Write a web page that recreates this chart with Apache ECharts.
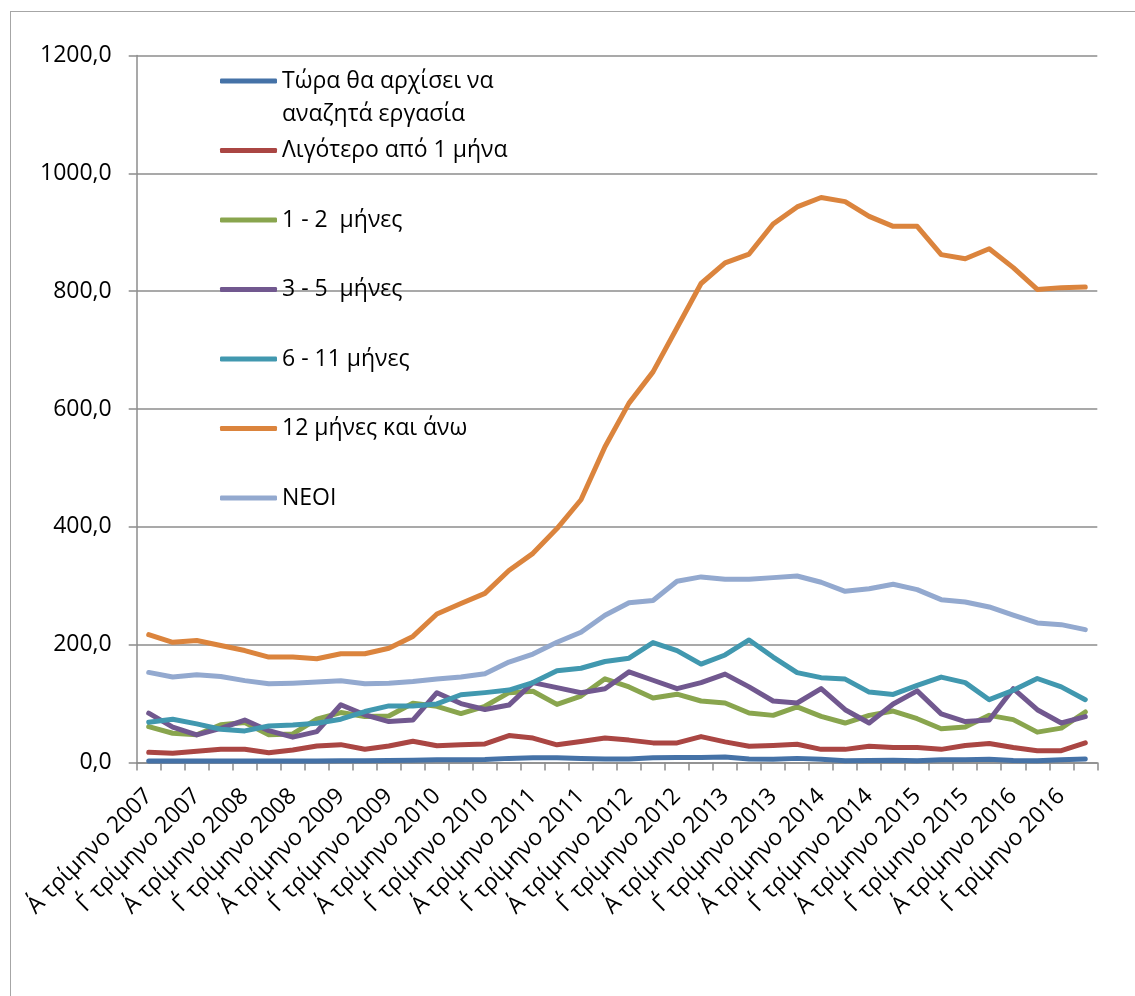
<!DOCTYPE html>
<html>
<head>
<meta charset="utf-8">
<script src="https://cdn.jsdelivr.net/npm/echarts@6/dist/echarts.min.js"></script>
<style>
    html, body {
        margin: 0;
        padding: 0;
        background: #fff;
        overflow: hidden;
    }
    .frame {
        position: absolute;
        left: 10px;
        top: 11px;
        width: 1300px;
        height: 1200px;
        border: 1.5px solid #a6a6a6;
    }
    #chart {
        position: absolute;
        left: 0;
        top: 0;
        width: 1135px;
        height: 996px;
    }
</style>
</head>
<body>
<div class="frame"></div>
<div id="chart"></div>
<script>
// quarters 2007 - 2016
const quarterNames = ["Α΄", "Β΄", "Γ΄", "Δ΄"];
const years = [2007, 2008, 2009, 2010, 2011, 2012, 2013, 2014, 2015, 2016];
const categories = [];
years.forEach((y) => quarterNames.forEach((q) => categories.push(q + " τρίμηνο " + y)));

const seriesNames = [
    "Τώρα θα αρχίσει να αναζητά εργασία",
    "Λιγότερο από 1 μήνα",
    "1 - 2  μήνες",
    "3 - 5  μήνες",
    "6 - 11 μήνες",
    "12 μήνες και άνω",
    "ΝΕΟΙ",
];

const startingNow = [2.5, 2.5, 2.5, 2.5, 2.5, 2.5, 2.5, 2.5, 3, 3, 3.5, 4, 4.5, 4.5, 5, 7, 8, 8, 7, 6,
    6, 8, 8.5, 8.5, 9.5, 6, 5.5, 7, 5.5, 3, 3.5, 4, 3, 4.5, 4.5, 5.5, 3.5, 3, 4.5, 6];
const lessThan1 = [17.3, 15.6, 19, 22.4, 22.4, 16.7, 21.3, 28, 30.3, 22.4, 28, 36, 28.5, 30, 31.6, 45.8, 41.4, 30, 35.8, 41.5,
    38, 33.3, 33.3, 44, 35, 27.7, 29, 31, 22.3, 22.3, 27.7, 25.5, 25.5, 22.3, 29, 32.3, 25.5, 20, 20, 33.3];
const months1to2 = [61, 49.7, 47, 64, 67.8, 47, 48.5, 73.5, 84.8, 78, 79, 100.7, 95.4, 83, 95.4, 118.5, 121, 98.6, 112.8, 142,
    128.3, 109.6, 115.9, 104.4, 101, 84, 80, 94.3, 78.3, 67, 80, 87.4, 74.3, 57.3, 60.2, 80, 72.8, 51.5, 58.3, 85.7];
const months3to5 = [83.7, 60, 46.8, 58, 72, 54, 43, 52.5, 98, 81, 69.5, 72, 118.5, 100, 90, 97.5, 135.6, 127, 118.5, 125.3,
    153.8, 139.6, 125.3, 135.6, 150, 128.3, 104.4, 101, 125.3, 89.6, 67, 99.4, 121.6, 82.5, 69.4, 72.3, 125.3, 89.6, 67, 78];
const months6to11 = [68.4, 73.5, 65.5, 56.5, 53.6, 62, 63.8, 66.7, 73.5, 86.5, 96, 96, 99.4, 115, 118.6, 123, 135.6, 155.6, 160, 171.4,
    177, 203.6, 190, 167, 182.5, 208, 179, 152.5, 144, 141.6, 119.5, 115.6, 131, 145, 135.6, 106.6, 122.6, 142.6, 128.3, 106.6];
const months12plus = [217, 204, 207, 198.6, 190, 179, 179, 176, 184.5, 184.5, 194, 214, 252, 270, 287, 326, 355, 397, 446, 536,
    610, 663, 738, 813, 848, 863, 914, 943, 959, 952, 927, 910, 910, 862, 855, 872, 840, 803, 806, 807];
const young = [152.9, 145, 149, 146, 139, 133.6, 134.7, 136.5, 138.7, 133.6, 134.7, 137.5, 141.6, 145, 150.7, 170.5, 184, 204, 221, 250,
    271, 275, 307.6, 315, 311, 311, 313.8, 316.6, 306, 290.6, 295, 302.5, 293.4, 276.4, 272.4, 264, 250, 236.8, 234, 225.5];

const seriesData = [startingNow, lessThan1, months1to2, months3to5, months6to11, months12plus, young];
const colors = ["#4572A7", "#AA4643", "#89A54E", "#71588F", "#4198AF", "#DB843D", "#93A9CF"];

const FONT = "'Open Sans', 'Noto Sans', sans-serif";
const GRAY = "#8c8c8c";

const chart = echarts.init(document.getElementById("chart"));

// one legend per entry so the spacing follows the picture
const legendCenters = [81, 150.5, 220, 289.5, 359, 428.5, 498];
const legends = seriesNames.map((name, i) => {
    const first = i === 0;
    return {
        data: [name],
        left: 220,
        top: first ? legendCenters[i] - 49.5 : legendCenters[i] - 16.5,
        orient: "vertical",
        padding: 0,
        icon: "roundRect",
        itemWidth: 57,
        itemHeight: 5,
        itemGap: 0,
        selectedMode: false,
        // empty first line keeps the icon level with the first text line
        formatter: first ? () => "\nΤώρα θα αρχίσει να\nαναζητά εργασία" : "{name}",
        textStyle: {
            fontFamily: FONT,
            fontSize: 23,
            color: "#000",
            lineHeight: 33,
        },
    };
});

const option = {
    animation: false,
    color: colors,
    grid: {
        left: 136.7,
        right: 37.7,
        top: 55.5,
        bottom: 233.5,
        containLabel: false,
        outerBoundsMode: "none",
    },
    legend: legends,
    xAxis: {
        type: "category",
        data: categories,
        boundaryGap: true,
        axisLine: { show: true, lineStyle: { color: GRAY, width: 1.5 } },
        axisTick: { show: true, interval: 0, length: 8, lineStyle: { color: GRAY, width: 1.5 } },
        axisLabel: {
            interval: 1,
            rotate: 45,
            margin: 30,
            color: "#000",
            fontFamily: FONT,
            fontSize: 23,
        },
        splitLine: { show: false },
    },
    yAxis: {
        type: "value",
        min: 0,
        max: 1200,
        interval: 200,
        axisLine: { show: true, lineStyle: { color: GRAY, width: 1.5 } },
        axisTick: { show: true, length: 8, lineStyle: { color: GRAY, width: 1.5 } },
        axisLabel: {
            margin: 25,
            color: "#000",
            fontFamily: FONT,
            fontSize: 23,
            formatter: (v) => v.toFixed(1).replace(".", ","),
        },
        splitLine: { show: true, lineStyle: { color: GRAY, width: 1.5 } },
    },
    series: seriesNames.map((name, i) => ({
        name: name,
        type: "line",
        data: seriesData[i],
        symbol: "none",
        lineStyle: { width: 5, cap: "round", join: "round" },
    })),
};

chart.setOption(option);
</script>
</body>
</html>
